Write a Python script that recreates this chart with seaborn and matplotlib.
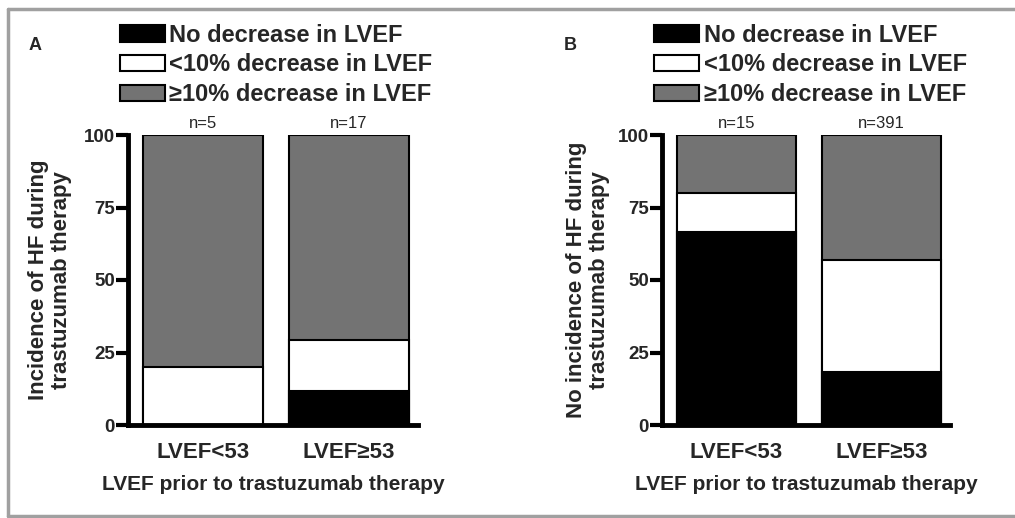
import pandas as pd
import seaborn as sns
import matplotlib.pyplot as plt
from matplotlib.patches import Patch
from matplotlib.lines import Line2D

# ---- DATA (percent of patients) ----
groups = ['LVEF<53', 'LVEF≥53']
layer_names = ['No decrease in LVEF', '<10% decrease in LVEF', '≥10% decrease in LVEF']
layer_colors = ['black', 'white', '#737373']

# panel A: incidence of HF during trastuzumab therapy
a_no_decrease = [0.0, 11.8]
a_small_decrease = [20.0, 17.6]
a_large_decrease = [80.0, 70.6]
a_n = ['n=5', 'n=17']

# panel B: no incidence of HF during trastuzumab therapy
b_no_decrease = [66.7, 18.4]
b_small_decrease = [13.3, 38.6]
b_large_decrease = [20.0, 43.0]
b_n = ['n=15', 'n=391']

sns.set_style('white')
plt.rcParams['font.family'] = ['Liberation Sans', 'DejaVu Sans']
plt.rcParams['font.weight'] = 'bold'


def stacked_panel(ax, no_dec, small_dec, large_dec, n_labels, ylabel, letter):
    df = pd.DataFrame({'group': groups, 'no': no_dec, 'small': small_dec, 'large': large_dec})
    df['top_small'] = df['no'] + df['small']
    df['top_large'] = df['top_small'] + df['large']

    # draw tallest layer first, then cover with the lower ones
    for col, color in [('top_large', layer_colors[2]), ('top_small', layer_colors[1]), ('no', layer_colors[0])]:
        sns.barplot(data=df, x='group', y=col, color=color, edgecolor='black',
                    linewidth=1.5, width=0.82, saturation=1, ax=ax)

    ax.set_ylim(0, 100)
    ax.set_xlim(-0.51, 1.47)
    ax.set_yticks([0, 25, 50, 75, 100])
    sns.despine(ax=ax)
    for side in ['left', 'bottom']:
        ax.spines[side].set_linewidth(3.5)
        ax.spines[side].set_color('black')
    ax.tick_params(axis='y', left=True, direction='out', length=9, width=3,
                   pad=0.5, labelsize=13.5, color='black')
    ax.tick_params(axis='x', bottom=False, length=0, pad=12, labelsize=16)
    for lab in ax.get_xticklabels() + ax.get_yticklabels():
        lab.set_fontweight('bold')

    ax.set_xlabel('LVEF prior to trastuzumab therapy', fontsize=15, fontweight='bold', labelpad=9)
    ax.set_ylabel(ylabel, fontsize=16, fontweight='bold', linespacing=1.15)

    for i, txt in enumerate(n_labels):
        ax.annotate(txt, xy=(i, 100), xytext=(0, 3), textcoords='offset points',
                    ha='center', va='bottom', fontsize=12, fontweight='normal')

    handles = [Patch(facecolor=c, edgecolor='black', linewidth=1.5) for c in layer_colors]
    ax.legend(handles, layer_names, loc='lower left', bbox_to_anchor=(-0.028, 1.1),
              frameon=False, handlelength=1.9, handleheight=0.68,
              handletextpad=0.2, labelspacing=0.28, borderpad=0, borderaxespad=0,
              prop={'weight': 'bold', 'size': 17})
    ax.text(-0.32, 1.31, letter, transform=ax.transAxes, fontsize=13, fontweight='bold',
            ha='center', va='center')


fig = plt.figure(figsize=(10.15, 5.18), dpi=100)
ax_a = fig.add_axes([128 / 1015, 93 / 518, 290 / 1015, 290 / 518])
ax_b = fig.add_axes([662 / 1015, 93 / 518, 288 / 1015, 290 / 518])

stacked_panel(ax_a, a_no_decrease, a_small_decrease, a_large_decrease, a_n,
              'Incidence of HF during\ntrastuzumab therapy', 'A')
stacked_panel(ax_b, b_no_decrease, b_small_decrease, b_large_decrease, b_n,
              'No incidence of HF during\ntrastuzumab therapy', 'B')
ax_a.yaxis.set_label_coords(-0.193, 0.5)
ax_b.yaxis.set_label_coords(-0.18, 0.5)

# grey frame around the figure (cut off at the right edge)
frame = dict(color='#a0a0a0', linewidth=2.5, transform=fig.transFigure)
fig.add_artist(Line2D([8 / 1015, 8 / 1015], [1 - 9 / 518, 1 - 516 / 518], **frame))
fig.add_artist(Line2D([8 / 1015, 1.0], [1 - 9 / 518, 1 - 9 / 518], **frame))
fig.add_artist(Line2D([8 / 1015, 1.0], [1 - 516 / 518, 1 - 516 / 518], **frame))

fig.savefig('out.png', dpi=100)
